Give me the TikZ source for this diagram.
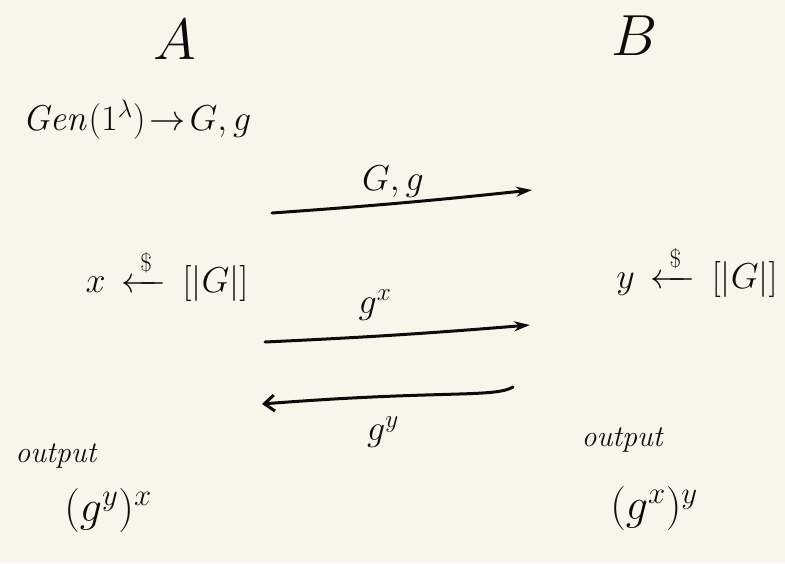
\RequirePackage{fix-cm}
\documentclass[tikz,border=0pt]{standalone}
\usepackage{amsmath}
\usetikzlibrary{arrows.meta}
\definecolor{paper}{RGB}{248,246,234}
\definecolor{ink}{RGB}{12,12,12}
\newcommand{\sampleto}{\xleftarrow{\;\rule[-5pt]{0pt}{5pt}\$\;}}
\begin{document}
\begin{tikzpicture}[x=1pt,y=-1pt,
  party/.style={text=ink,font=\fontsize{58}{64}\selectfont,inner sep=0pt},
  txt/.style={text=ink,font=\fontsize{36}{42}\selectfont,inner sep=0pt},
  res/.style={text=ink,font=\fontsize{44}{50}\selectfont,inner sep=0pt},
  lbl/.style={text=ink,font=\fontsize{36}{42}\selectfont,inner sep=0pt},
  small/.style={text=ink,font=\fontsize{30}{34}\selectfont\itshape,inner sep=0pt},
  msg/.style={draw=ink,line width=3pt,line cap=round}]
\fill[paper] (0,0) rectangle (785,563);
\useasboundingbox (0,0) rectangle (785,563);
% parties
\node[party] (A) at (175,40) {$A$};
\node[party] (B) at (635,36) {$B$};
% setup
\node[txt] (gen) at (137,120) {$\mathit{Gen}(1^{\lambda})\!\to\! G,g$};
\node[txt] (xs) at (167,276) {$x\,\sampleto\,[|G|]$};
\node[txt] (ys) at (697,272) {$y\,\sampleto\,[|G|]$};
% messages
\coordinate (m1s) at (272,213);
\coordinate (m1e) at (532,190);
\coordinate (m2s) at (265,342);
\coordinate (m2e) at (530,325);
\coordinate (m3s) at (513,387);
\coordinate (m3e) at (262,404);
\draw[msg,-{Stealth[open,length=16pt,width=10pt]}] (m1s) to[bend right=1] (m1e);
\draw[msg,-{Stealth[length=16pt,width=10pt]}] (m2s) to[bend right=1] (m2e);
\draw[msg,-{Straight Barb[length=10pt,width=16pt]}] (m3s) .. controls (495,398) and (440,390) .. (m3e);
\node[lbl] (l1) at (393,182) {$G,g$};
\node[lbl] (l2) at (375,305) {$g^{x}$};
\node[lbl] (l3) at (383,432) {$g^{y}$};
% outputs
\node[small] (oa) at (56,456) {output};
\node[res] (ra) at (108,510) {$(g^{y})^{x}$};
\node[small] (ob) at (622,440) {output};
\node[res] (rb) at (654,508) {$(g^{x})^{y}$};
\end{tikzpicture}
\end{document}
